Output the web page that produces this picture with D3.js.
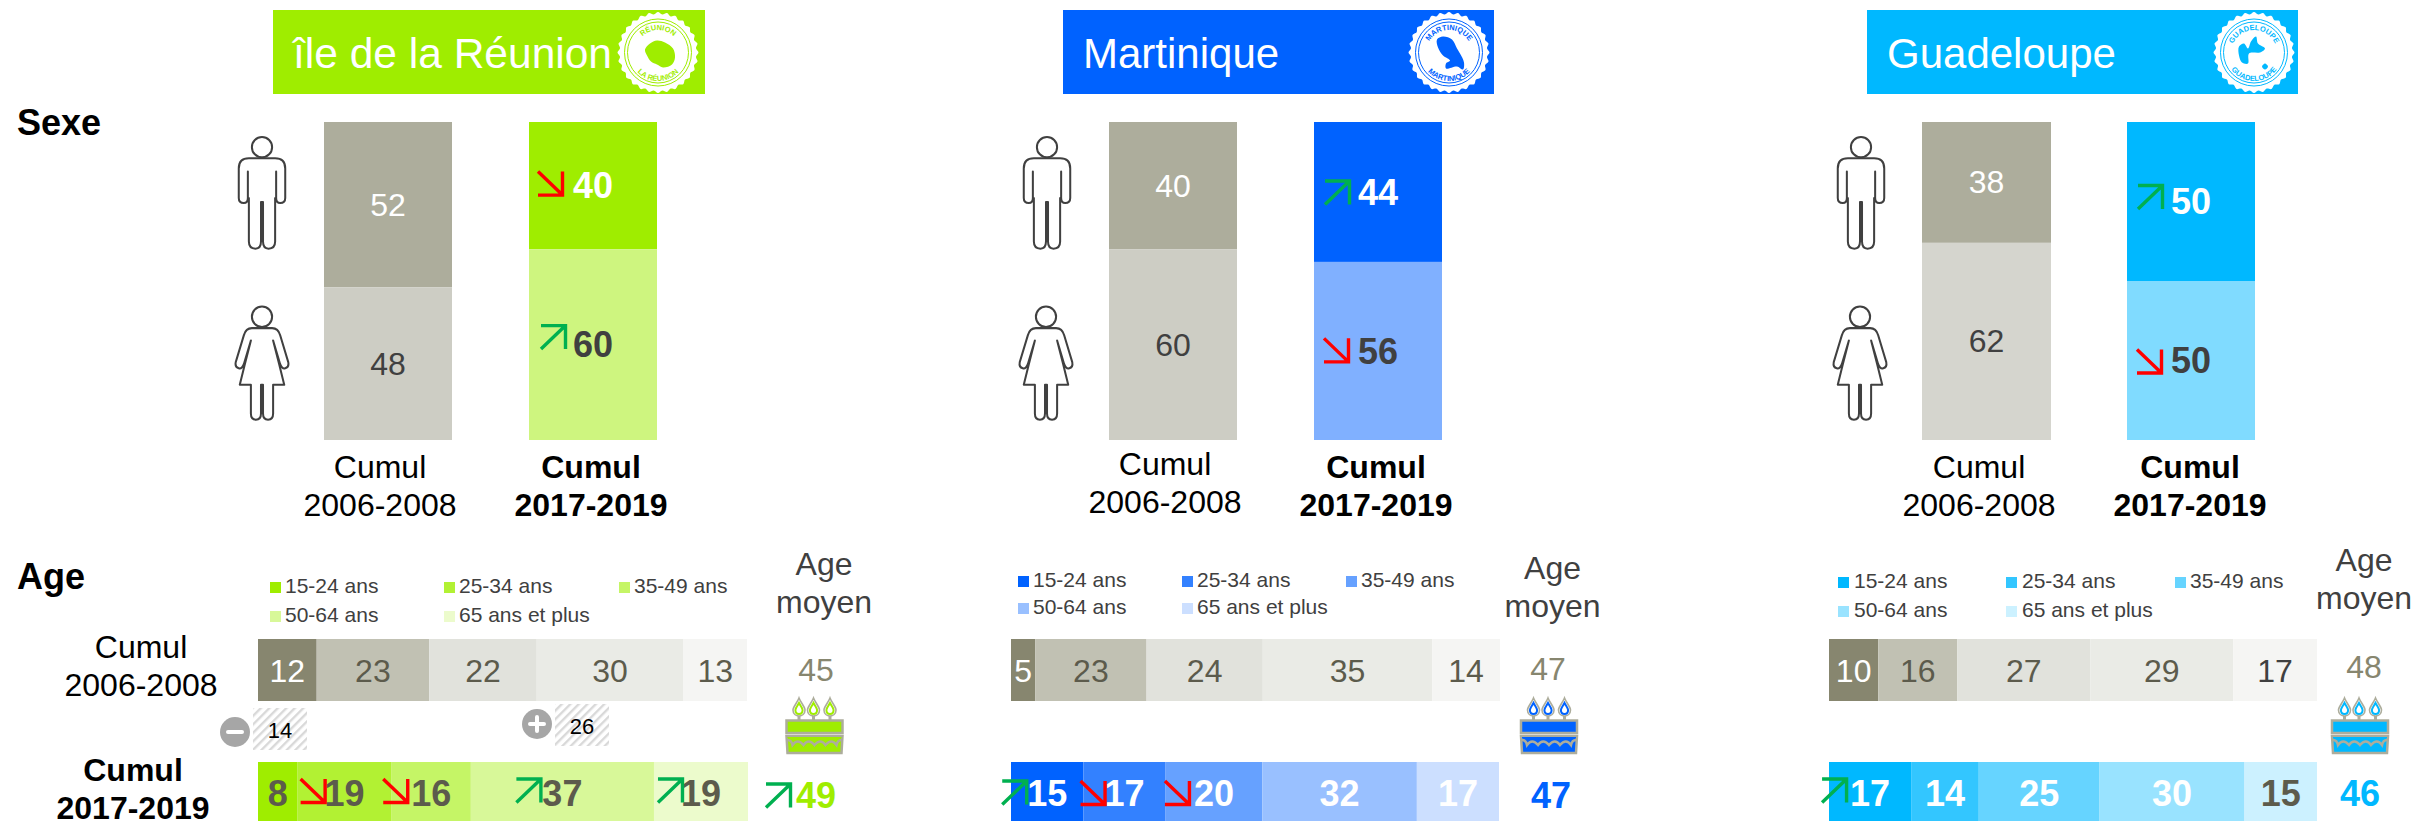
<!DOCTYPE html>
<html><head><meta charset="utf-8">
<script src="https://cdn.jsdelivr.net/npm/d3@7/dist/d3.min.js"></script>
<style>html,body{margin:0;background:#fff}svg{display:block}text{font-family:"Liberation Sans",Arial,sans-serif}</style>
</head><body><div id="c"></div>
<script>
// ---------- DATA ----------
const regionNames = ["île de la Réunion", "Martinique", "Guadeloupe"];
const sealTopLabels = ["RÉUNION", "MARTINIQUE", "GUADELOUPE"];
const sealBottomLabels = ["LA RÉUNION", "MARTINIQUE", "GUADELOUPE"];
const ageGroups = ["15-24 ans", "25-34 ans", "35-49 ans", "50-64 ans", "65 ans et plus"];
const periodPast = ["Cumul", "2006-2008"];
const periodRecent = ["Cumul", "2017-2019"];
const sexPast = [[52, 48], [40, 60], [38, 62]];
const sexRecent = [[40, 60], [44, 56], [50, 50]];
const sexTrend = [["down", "up"], ["up", "down"], ["up", "down"]];
const agePast = [[12, 23, 22, 30, 13], [5, 23, 24, 35, 14], [10, 16, 27, 29, 17]];
const ageRecent = [[8, 19, 16, 37, 19], [15, 17, 20, 32, 17], [17, 14, 25, 30, 15]];
const ageTrend = [[null, "down", "down", "up", "up"], ["up", "down", "down", null, null], ["up", null, null, null, null]];
const meanAgePast = [45, 47, 48];
const meanAgeRecent = [49, 47, 46];
const meanAgeTrend = ["up", null, null];
const reunionCallouts = [{sign: "-", value: 14}, {sign: "+", value: 26}];

// ---------- STYLE & LAYOUT ----------
const W = 2420, H = 821, FONT_BIG = 32, FONT_BOLD = 36;
const GREY = "#404040", UP = "#00B050", DOWN = "#FF0000", VALUE_DARK = "#5C5B4C";
const themes = [
  {main: "#9FED00", light: "#CEF57F", ramp: ["#9FED00", "#B2F133", "#C5F566", "#D8F899", "#ECFBCC"]},
  {main: "#0062FF", light: "#80B0FF", ramp: ["#0062FF", "#3381FF", "#66A1FF", "#99C0FF", "#CCDFFF"]},
  {main: "#00B8FF", light: "#80DBFF", ramp: ["#00B8FF", "#33C6FF", "#66D4FF", "#99E3FF", "#CCF1FF"]}
];
const greyRamp = ["#87866F", "#C1C1B3", "#E1E2DC", "#EAEBE6", "#F5F5F3"];
const sexGrey = [["#ADAD9C", "#CDCDC4"], ["#ADAD9C", "#CDCDC4"], ["#ADAD9C", "#D5D5CE"]];
const layouts = [
  {head: [273, 705], headX: 293, headFont: 42.5, seal: 658, man: 262, woman: 262, barPast: [324, 452], barRecent: [529, 657],
   labelPast: [380, 478], labelRecent: [591, 478], sexArrows: [[-55, -14], [-52, -19]],
   legX: [270, 444, 619], legTx: [285, 459, 634], legY: [593, 622],
   moyen: [824, 575], age: [258, 747], ageR: [258, 748], ageArrow: [0, -44, -48, -46, -43], ageArrowY: 779,
   meanPast: [816, 681], meanRecent: [816, 808], meanArrow: [766, 784], cake: 814.5},
  {head: [1063, 1494], headX: 1083, headFont: 42, seal: 1449, man: 1047, woman: 1046, barPast: [1109, 1237], barRecent: [1314, 1442],
   labelPast: [1165, 475], labelRecent: [1376, 478], sexArrows: [[-53, -11], [-54, -12.6]],
   legX: [1018, 1182, 1346], legTx: [1033, 1197, 1361], legY: [587, 614],
   moyen: [1552.5, 579], age: [1011, 1500], ageR: [1011, 1499], ageArrow: [-45, -44, -49, 0, 0], ageArrowY: 781,
   meanPast: [1548, 680], meanRecent: [1551, 808], cake: 1549},
  {head: [1867, 2298], headX: 1887, headFont: 42, seal: 2254, man: 1861, woman: 1860, barPast: [1922, 2051], barRecent: [2127, 2255],
   labelPast: [1979, 478], labelRecent: [2190, 478], sexArrows: [[-53, -16], [-54, -11]],
   legX: [1838, 2006, 2175], legTx: [1854, 2022, 2190], legY: [588, 617],
   moyen: [2364, 571], age: [1829, 2317], ageR: [1829, 2317], ageArrow: [-48, 0, 0, 0, 0], ageArrowY: 779,
   meanPast: [2364, 678], meanRecent: [2360, 806], cake: 2360}
];
const islands = [
  [[[-13,-3],[-8,-9],[-1,-12],[7,-10],[15,-4],[17,5],[14,12],[5,15],[-1,12],[-7,9],[-11,3]]],
  [[[-12,-13],[-6,-16],[3,-13],[8,-4],[11,1],[15,10],[14,17],[8,14],[-3,16],[-3,11],[1,8],[-6,3],[-11,-5]]],
  [[[-15,-6],[-10,-9],[-6,-4],[-3,-11],[2,-16],[4,-9],[11,-4],[6,0],[-5,1],[-6,11],[-12,10],[-15,3]],
   [[11,11],[14,14],[11,17],[8,14]]]
];

const svg = d3.select("#c").append("svg").attr("width", W).attr("height", H).attr("viewBox", `0 0 ${W} ${H}`);
const defs = svg.append("defs");
const hatch = defs.append("pattern").attr("id", "hatch").attr("width", 6).attr("height", 6)
  .attr("patternUnits", "userSpaceOnUse").attr("patternTransform", "rotate(45)");
hatch.append("rect").attr("width", 2.4).attr("height", 6).attr("fill", "#D9D9D9");

function txt(g, x, y, s, o = {}) {
  return g.append("text").attr("x", x).attr("y", y).text(s)
    .attr("font-size", o.size || FONT_BIG).attr("font-weight", o.bold ? 700 : 400)
    .attr("fill", o.fill || "#000").attr("text-anchor", o.anchor || "middle");
}
function arrow(g, x, y, dir) {
  const w = 24.5, h = 23.5;
  const d = dir === "up"
    ? `M0,0H${w}V${h} M${w},0L0,${h}`
    : `M0,0L${w},${h} M${w},0V${h}H0`;
  g.append("path").attr("transform", `translate(${x},${y})`).attr("d", d).attr("fill", "none")
    .attr("stroke", dir === "up" ? UP : DOWN).attr("stroke-width", 3.4);
}
function man(g, cx, top) {
  const t = g.append("g").attr("transform", `translate(${cx},${top}) scale(1.01,1.015)`).attr("fill", "none")
    .attr("stroke", GREY).attr("stroke-width", 2).attr("stroke-linejoin", "round");
  t.append("circle").attr("cy", 10).attr("r", 10);
  t.append("path").attr("d", "M-13,21H13Q23,21 23,31V60Q23,65 18,65Q14,65 14,60V34V60H13V103Q13,110 6.5,110Q1,110 1,103V64H-1V103Q-1,110 -6.5,110Q-13,110 -13,103V60H-14V34V60Q-14,65 -18,65Q-23,65 -23,60V31Q-23,21 -13,21Z");
}
function woman(g, cx, top) {
  const t = g.append("g").attr("transform", `translate(${cx},${top}) scale(1.01,1.03)`).attr("fill", "none")
    .attr("stroke", GREY).attr("stroke-width", 2).attr("stroke-linejoin", "round");
  t.append("circle").attr("cy", 10).attr("r", 10);
  t.append("path").attr("d", "M-10,21H10Q16,21 18,28L26,54Q27,59 23,60Q20,61 18,56L11,33L17,56L22,76H11V104Q11,110 6,110Q1,110 1,104V76H-1V104Q-1,110 -6,110Q-11,110 -11,104V76H-22L-17,56L-11,33L-18,56Q-20,61 -23,60Q-27,59 -26,54L-18,28Q-16,21 -10,21Z");
}
function seal(g, i, cx, cy, color) {
  const n = 28, pts = d3.range(n * 2).map(k => [k * Math.PI / n, k % 2 ? 38.2 : 40.5]);
  const s = g.append("g").attr("transform", `translate(${cx},${cy})`);
  s.append("path").attr("d", d3.lineRadial().curve(d3.curveCardinalClosed)(pts)).attr("fill", "#fff");
  [33.5, 30.5].forEach(r => s.append("circle").attr("r", r).attr("fill", "none").attr("stroke", color).attr("stroke-width", 1));
  const line = d3.line().curve(d3.curveCatmullRomClosed);
  islands[i].forEach(p => s.append("path").attr("d", line(p)).attr("fill", color));
  const top = `seal-top-${i}`, bot = `seal-bot-${i}`;
  defs.append("path").attr("id", top).attr("d", "M-23,0.5A23,23 0 0 1 23,0.5");
  defs.append("path").attr("id", bot).attr("d", "M-28.5,0A28.5,28.5 0 0 0 28.5,0");
  s.append("text").attr("font-size", 7.5).attr("font-weight", 700).attr("fill", color)
    .append("textPath").attr("href", "#" + top).attr("startOffset", "50%").attr("text-anchor", "middle").text(sealTopLabels[i]);
  s.append("text").attr("font-size", 7.5).attr("font-weight", 700).attr("fill", color)
    .append("textPath").attr("href", "#" + bot).attr("startOffset", "50%").attr("text-anchor", "middle").text(sealBottomLabels[i]);
}
function cake(g, cx, color) {
  const c = g.append("g").attr("transform", `translate(${cx},0)`);
  const G = "#ADAD9C";
  [-15.5, -1, 15.5].forEach(dx => {
    c.append("path").attr("d", `M${dx},714V720`).attr("stroke", G).attr("stroke-width", 3);
    c.append("path").attr("d", `M${dx},698C${dx + 2},703 ${dx + 6},707 ${dx + 6},710C${dx + 6},714 ${dx + 3},716 ${dx},716C${dx - 3},716 ${dx - 6},714 ${dx - 6},710C${dx - 6},707 ${dx - 2},703 ${dx},698Z`)
      .attr("fill", "#fff").attr("stroke", G).attr("stroke-width", 1.6);
    c.append("path").attr("d", `M${dx},703C${dx + 1},705 ${dx + 3.6},708 ${dx + 3.6},710C${dx + 3.6},713 ${dx + 2},714 ${dx},714C${dx - 2},714 ${dx - 3.6},713 ${dx - 3.6},710C${dx - 3.6},708 ${dx - 1},705 ${dx},703Z`)
      .attr("fill", "#fff").attr("stroke", color).attr("stroke-width", 2);
  });
  c.append("rect").attr("x", -28).attr("y", 720.5).attr("width", 56).attr("height", 12.5).attr("fill", color).attr("stroke", G).attr("stroke-width", 2.5);
  c.append("path").attr("d", "M-28,736H28L27,753H-27Z").attr("fill", color).attr("stroke", G).attr("stroke-width", 2.5);
  c.append("path").attr("d", "M-27,738Q-22,739 -22,745Q-17,738 -11,745Q-6,738 0,745Q6,738 11,745Q17,738 22,745Q22,739 27,738V737H-27Z")
    .attr("fill", color);
  c.append("path").attr("d", "M-27,740Q-23,740 -22,745Q-17,738 -11,745Q-6,738 0,745Q6,738 11,745Q17,738 22,745Q23,740 27,740")
    .attr("fill", "none").attr("stroke", G).attr("stroke-width", 2.5);
}

txt(svg, 17, 134.5, "Sexe", {bold: true, size: 36, anchor: "start"});
txt(svg, 17, 589, "Age", {bold: true, size: 36, anchor: "start"});
txt(svg, 141, 658, periodPast[0]);
txt(svg, 141, 696, periodPast[1]);
txt(svg, 133, 781, periodRecent[0], {bold: true});
txt(svg, 133, 819, periodRecent[1], {bold: true});

const yHeader = [10, 94];
const ySex = d3.scaleLinear().domain([0, 100]).range([122, 440]);

regionNames.forEach((name, i) => {
  const L = layouts[i], T = themes[i], g = svg.append("g");
  // header
  g.append("rect").attr("x", L.head[0]).attr("y", yHeader[0]).attr("width", L.head[1] - L.head[0]).attr("height", yHeader[1] - yHeader[0]).attr("fill", T.main);
  txt(g, L.headX, 68, name, {size: L.headFont, fill: "#fff", anchor: "start"});
  seal(g, i, L.seal, 52.5, T.main);
  man(g, L.man, 137);
  woman(g, L.woman, 306.5);

  // sex bars
  const drawSex = (vals, xr, fills, bold, arrows, dirs) => {
    const cx = (xr[0] + xr[1]) / 2;
    let acc = 0;
    vals.forEach((v, k) => {
      const y0 = ySex(acc), y1 = ySex(acc + v), mid = (y0 + y1) / 2;
      g.append("rect").attr("x", xr[0]).attr("y", y0).attr("width", xr[1] - xr[0]).attr("height", y1 - y0).attr("fill", fills[k]);
      txt(g, cx, mid + (bold ? 12.8 : 11), v, {size: bold ? FONT_BOLD : FONT_BIG, bold, fill: k ? GREY : "#fff"});
      if (dirs) arrow(g, cx + arrows[k][0], mid + arrows[k][1], dirs[k]);
      acc += v;
    });
  };
  drawSex(sexPast[i], L.barPast, sexGrey[i], false);
  drawSex(sexRecent[i], L.barRecent, [T.main, T.light], true, L.sexArrows, sexTrend[i]);
  [[periodPast, L.labelPast, false], [periodRecent, L.labelRecent, true]].forEach(([lab, p, bold]) => {
    txt(g, p[0], p[1], lab[0], {bold});
    txt(g, p[0], p[1] + 38, lab[1], {bold});
  });

  // legend
  ageGroups.forEach((a, k) => {
    const col = k < 3 ? k : k - 3, row = k < 3 ? 0 : 1;
    g.append("rect").attr("x", L.legX[col]).attr("y", L.legY[row] - 11).attr("width", 11).attr("height", 11).attr("fill", T.ramp[k]);
    txt(g, L.legTx[col], L.legY[row], a, {size: 21, fill: GREY, anchor: "start"});
  });
  txt(g, L.moyen[0], L.moyen[1], "Age", {fill: GREY});
  txt(g, L.moyen[0], L.moyen[1] + 38, "moyen", {fill: GREY});

  // age bars
  const drawAge = (vals, xr, yr, fills, opts) => {
    const x = d3.scaleLinear().domain([0, d3.sum(vals)]).range(xr);
    let acc = 0;
    vals.forEach((v, k) => {
      const x0 = x(acc), x1 = x(acc + v);
      g.append("rect").attr("x", x0).attr("y", yr[0]).attr("width", x1 - x0).attr("height", yr[1] - yr[0]).attr("fill", fills[k]);
      opts.cells.push({v, k, cx: (x0 + x1) / 2});
      acc += v;
    });
    opts.cells.forEach(c => {
      txt(g, c.cx, opts.base, c.v, {size: opts.bold ? FONT_BOLD : FONT_BIG, bold: opts.bold, fill: opts.color(c.k)});
      if (opts.dirs && opts.dirs[c.k]) arrow(g, c.cx + L.ageArrow[c.k], L.ageArrowY, opts.dirs[c.k]);
    });
  };
  drawAge(agePast[i], L.age, [639, 701], greyRamp, {cells: [], base: 682, color: k => k === 0 ? "#fff" : (i === 2 && k === 4 ? GREY : VALUE_DARK)});
  drawAge(ageRecent[i], L.ageR, [762, 821], T.ramp, {cells: [], base: 806, bold: true, dirs: ageTrend[i],
    color: k => i === 0 || (i === 2 && k === 4) ? VALUE_DARK : "#fff"});

  // mean age
  txt(g, L.meanPast[0], L.meanPast[1], meanAgePast[i], {fill: "#87866F"});
  cake(g, L.cake, T.main);
  txt(g, L.meanRecent[0], L.meanRecent[1], meanAgeRecent[i], {size: FONT_BOLD, bold: true, fill: T.main});
  if (meanAgeTrend[i]) arrow(g, L.meanArrow[0], L.meanArrow[1], meanAgeTrend[i]);
});

// Réunion callouts between the two age bars
const calloutPos = [{box: [253, 708], sign: [235, 732]}, {box: [555, 704], sign: [537, 724]}];
reunionCallouts.forEach((c, k) => {
  const p = calloutPos[k];
  svg.append("rect").attr("x", p.box[0]).attr("y", p.box[1]).attr("width", 54).attr("height", 42).attr("fill", "url(#hatch)");
  txt(svg, p.box[0] + 27, p.box[1] + 30, c.value, {size: 22});
  svg.append("circle").attr("cx", p.sign[0]).attr("cy", p.sign[1]).attr("r", 15).attr("fill", "#A6A6A6");
  svg.append("path").attr("d", c.sign === "+"
      ? `M${p.sign[0] - 7},${p.sign[1]}H${p.sign[0] + 7}M${p.sign[0]},${p.sign[1] - 7}V${p.sign[1] + 7}`
      : `M${p.sign[0] - 7},${p.sign[1]}H${p.sign[0] + 7}`)
    .attr("stroke", "#fff").attr("stroke-width", 4).attr("stroke-linecap", "round");
});
</script></body></html>
